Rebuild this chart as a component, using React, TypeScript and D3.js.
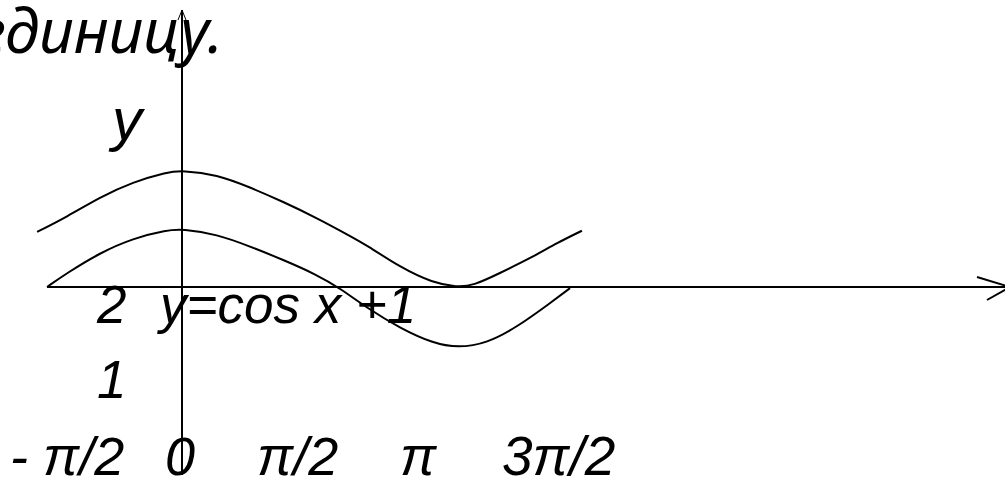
import React from "react";
import * as d3 from "d3";

// Curve samples: x in multiples of π, y in units
const upperX = [-0.525, -0.417, -0.297, -0.178, -0.054, 0, 0.127, 0.246, 0.366, 0.489, 0.609, 0.67, 0.79, 0.909, 0.996, 1.054, 1.152, 1.272, 1.359, 1.449];
const upperY = [0.95, 1.21, 1.55, 1.81, 1.98, 2.01, 1.94, 1.72, 1.47, 1.19, 0.88, 0.72, 0.34, 0.07, 0.0, 0.02, 0.24, 0.52, 0.76, 0.97];

const lowerX = [-0.489, -0.417, -0.297, -0.178, -0.054, 0, 0.127, 0.246, 0.366, 0.489, 0.572, 0.67, 0.79, 0.909, 1.0, 1.105, 1.214, 1.333, 1.406];
const lowerY = [0.0, 0.24, 0.59, 0.84, 0.98, 1.0, 0.91, 0.7, 0.47, 0.21, -0.02, -0.36, -0.71, -0.97, -1.05, -0.97, -0.69, -0.28, -0.02];

const heading = "единицу.";
const axisName = "y";
const formula = "y=cos x +1";
const valueLabels = ["2", "1"];
const piLabels = ["- π/2", "0", "π/2", "π", "3π/2"];

export default function App() {
  const W = 1005;
  const H = 478;
  const x = d3.scaleLinear().domain([0, 1]).range([182, 458]);
  const y = d3.scaleLinear().domain([0, 2]).range([287, 171]);

  const line = d3
    .line<[number, number]>()
    .x((d) => x(d[0]))
    .y((d) => y(d[1]))
    .curve(d3.curveBasis);

  const upper = upperX.map((v, i) => [v, upperY[i]] as [number, number]);
  const lower = lowerX.map((v, i) => [v, lowerY[i]] as [number, number]);

  const x0 = x(0);
  const y0 = y(0);
  const font = {
    fontFamily: "'Liberation Sans', Arial, sans-serif",
    fontStyle: "italic" as const,
    fill: "#000",
  };
  const labelXs = [10, 165, 257, 400, 502];
  const valueYs = [323, 398];

  return (
    <svg
      width={W}
      height={H}
      style={{ position: "absolute", left: 0, top: 0, background: "#fff" }}
    >
      <text
        x={223}
        y={53}
        fontSize={61}
        textAnchor="end"
        fontFamily="'Noto Sans', sans-serif"
        fontStyle="italic"
        fill="#000"
      >
        {heading}
      </text>

      {/* axes */}
      <line x1={x0} y1={10} x2={x0} y2={475} stroke="#000" strokeWidth={2} />
      <polyline
        points={`${x0 - 4},20 ${x0},10 ${x0 + 4},20`}
        fill="none"
        stroke="#000"
        strokeWidth={1}
      />
      <line x1={47} y1={y0} x2={1008} y2={y0} stroke="#000" strokeWidth={2} />
      <line x1={977} y1={277} x2={1010} y2={y0} stroke="#000" strokeWidth={2} />
      <line x1={987} y1={300} x2={1010} y2={y0} stroke="#000" strokeWidth={2} />

      {/* curves */}
      <path d={line(upper) || ""} fill="none" stroke="#000" strokeWidth={2} />
      <path d={line(lower) || ""} fill="none" stroke="#000" strokeWidth={2} />

      <text x={112} y={140} fontSize={60} {...font}>
        {axisName}
      </text>
      <text x={160} y={323} fontSize={53} {...font}>
        {formula}
      </text>
      {valueLabels.map((t, i) => (
        <text key={t} x={97} y={valueYs[i]} fontSize={53} {...font}>
          {t}
        </text>
      ))}
      {piLabels.map((t, i) => (
        <text
          key={t}
          x={labelXs[i]}
          y={475}
          fontSize={i === 4 ? 55 : 54}
          {...font}
          style={{ whiteSpace: "pre" }}
        >
          {t}
        </text>
      ))}
    </svg>
  );
}
